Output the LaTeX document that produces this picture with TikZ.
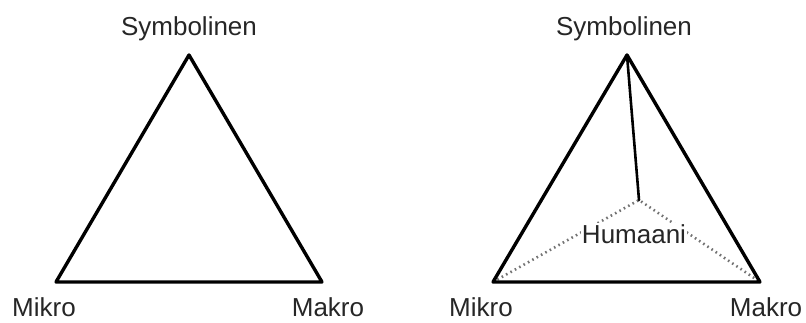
\documentclass[tikz,border=0pt]{standalone}
\usepackage{fontspec}
\setmainfont{Liberation Sans}
\tikzset{
  side/.style={line width=3.4pt,line join=round,line cap=round},
  spoke/.style={line width=2.6pt,line cap=round},
  dotline/.style={black!55,line width=2.6pt,dash pattern=on 1.6pt off 3.4pt},
  lbl/.style={anchor=base,inner sep=0pt,font=\fontsize{26}{30}\selectfont,text=black!85}
}
\begin{document}
\begin{tikzpicture}[x=1pt,y=-1pt]
  \useasboundingbox (0,0) rectangle (806,322);
  % left triangle
  \coordinate (lsym) at (189,55); \coordinate (lmik) at (56,282); \coordinate (lmak) at (322,282);
  \draw[side] (lsym)--(lmak)--(lmik)--cycle;
  \node[lbl] (lsymtxt) at (189,35) {Symbolinen};
  \node[lbl] (lmiktxt) at (44,316) {Mikro};
  \node[lbl] (lmaktxt) at (328,316) {Makro};
  % right triangle with the humaani point
  \coordinate (rsym) at (627,55); \coordinate (rmik) at (493,282); \coordinate (rmak) at (760,282);
  \coordinate (hum) at (639,200);
  \draw[dotline] (rmik)--(hum)--(rmak);
  \draw[side] (rsym)--(rmak)--(rmik)--cycle;
  \draw[spoke] (rsym)--(hum);
  \node[lbl,fill=white,inner sep=1pt] (humtxt) at (634,243) {Humaani};
  \node[lbl] (rsymtxt) at (624,35) {Symbolinen};
  \node[lbl] (rmiktxt) at (481,316) {Mikro};
  \node[lbl] (rmaktxt) at (766,316) {Makro};
\end{tikzpicture}
\end{document}
